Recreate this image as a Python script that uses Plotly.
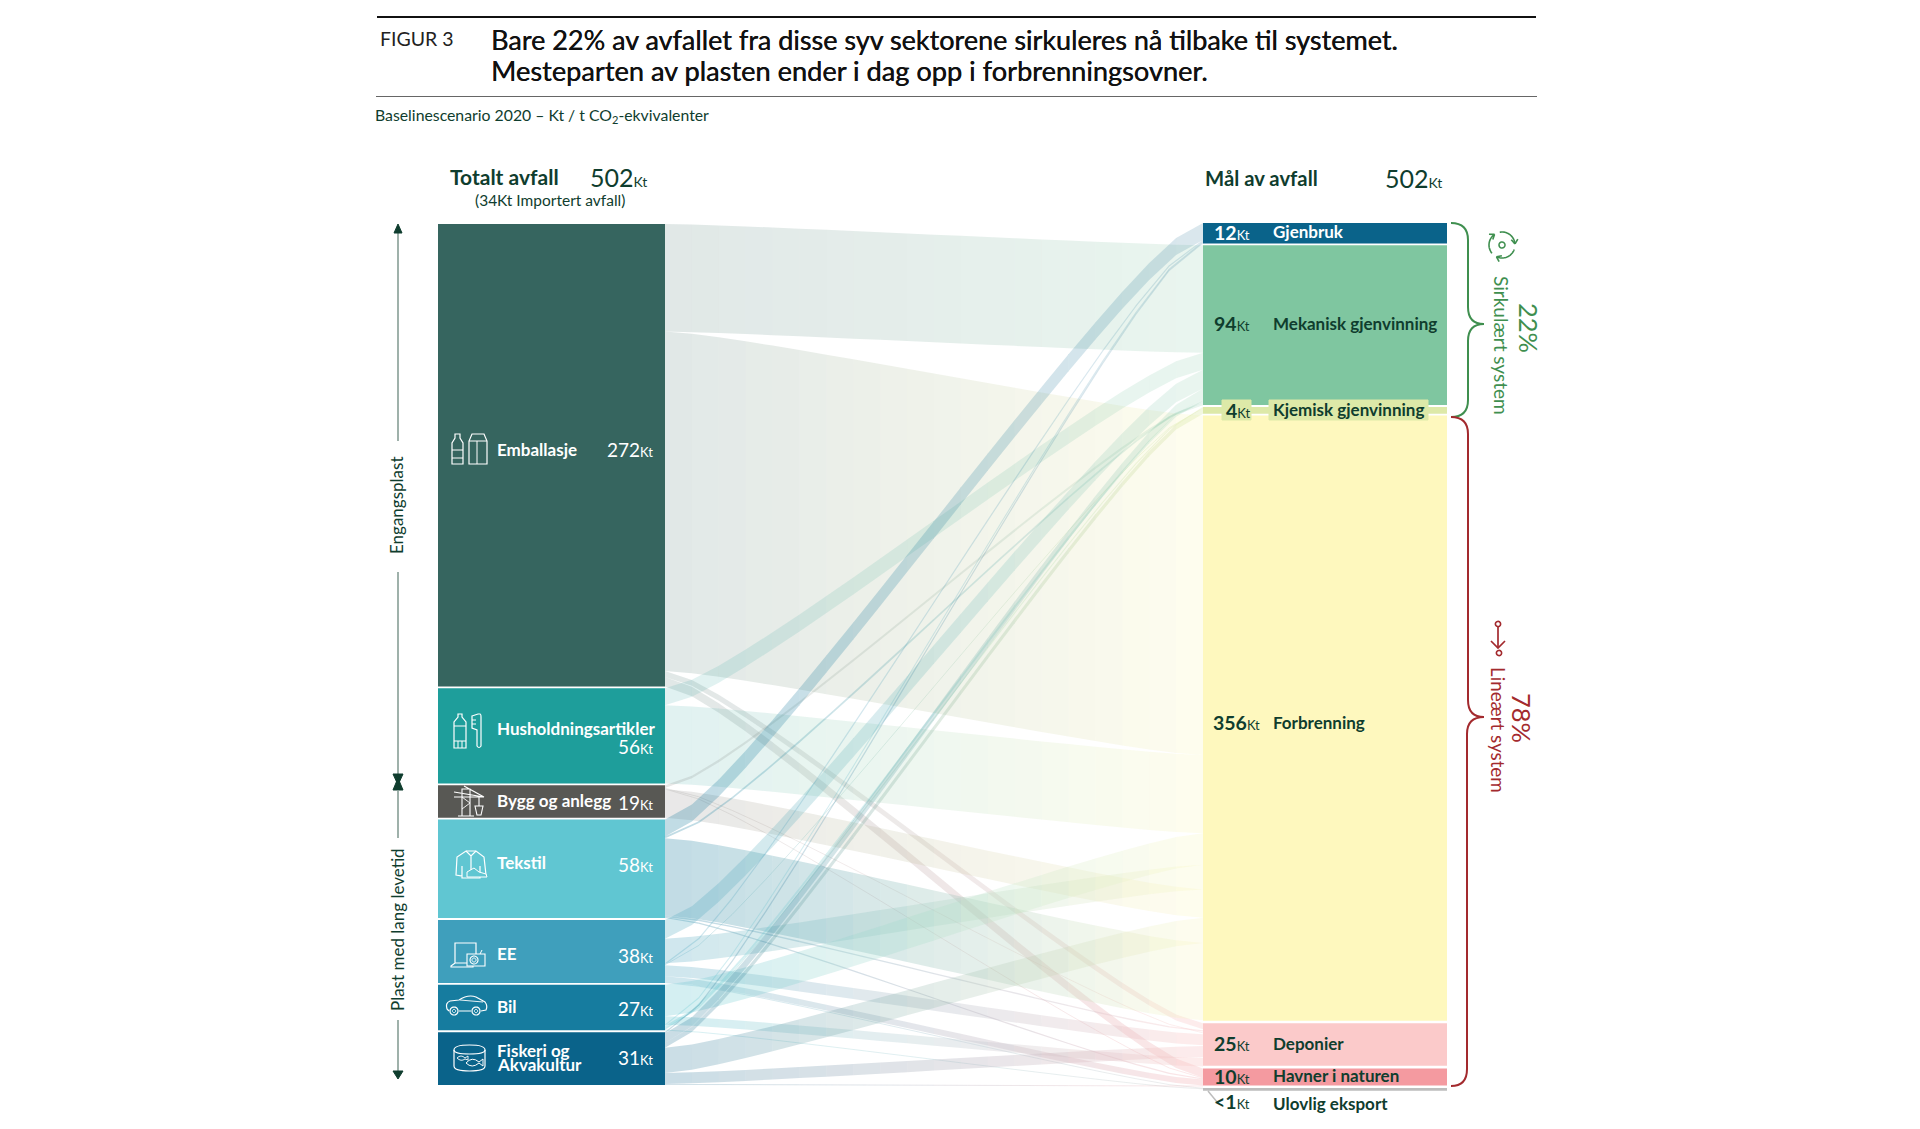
import numpy as np
import plotly.graph_objects as go

# ---------- data (Kt) ----------
source_names = ["Emballasje", "Husholdningsartikler", "Bygg og anlegg", "Tekstil", "EE", "Bil", "Fiskeri og Akvakultur"]
source_values = [272, 56, 19, 58, 38, 27, 31]
target_names = ["Gjenbruk", "Mekanisk gjenvinning", "Kjemisk gjenvinning", "Forbrenning", "Deponier", "Havner i naturen", "Ulovlig eksport"]
target_values = [12, 94, 4, 356, 25, 10, 1]
target_labels = ["12", "94", "4", "356", "25", "10", "&lt;1"]
total_waste = 502

# each source's outgoing flows, in the order they leave the source (top to bottom)
flows_emballasje = [("Mekanisk gjenvinning", 63.3), ("Forbrenning", 199.7), ("Deponier", 3.5), ("Havner i naturen", 5.5)]
flows_hushold = [("Mekanisk gjenvinning", 10.0), ("Forbrenning", 46.0)]
flows_bygg = [("Mekanisk gjenvinning", 1.5), ("Deponier", 0.4), ("Havner i naturen", 0.4), ("Forbrenning", 16.7)]
flows_tekstil = [("Gjenbruk", 10.0), ("Mekanisk gjenvinning", 1.0), ("Forbrenning", 45.5), ("Deponier", 0.8), ("Havner i naturen", 0.7)]
flows_ee = [("Mekanisk gjenvinning", 11.0), ("Forbrenning", 14.5), ("Gjenbruk", 0.7), ("Kjemisk gjenvinning", 0.4), ("Deponier", 6.5), ("Havner i naturen", 3.5), ("Ulovlig eksport", 0.4)]
flows_bil = [("Forbrenning", 18.5), ("Deponier", 5.0), ("Gjenbruk", 0.6), ("Mekanisk gjenvinning", 1.8), ("Kjemisk gjenvinning", 0.6), ("Ulovlig eksport", 0.3)]
flows_fiskeri = [("Gjenbruk", 0.7), ("Mekanisk gjenvinning", 5.5), ("Kjemisk gjenvinning", 3.0), ("Forbrenning", 14.8), ("Deponier", 6.5), ("Havner i naturen", 0.5)]
all_flows = [flows_emballasje, flows_hushold, flows_bygg, flows_tekstil, flows_ee, flows_bil, flows_fiskeri]

# order in which flows arrive on each target (top to bottom)
arrival_order = {
    "Gjenbruk": ["Tekstil", "EE", "Bil", "Fiskeri og Akvakultur"],
    "Mekanisk gjenvinning": ["Emballasje", "Husholdningsartikler", "EE", "Fiskeri og Akvakultur", "Bil", "Tekstil", "Bygg og anlegg"],
    "Kjemisk gjenvinning": ["Bil", "EE", "Fiskeri og Akvakultur"],
    "Forbrenning": ["Emballasje", "Husholdningsartikler", "Bil", "EE", "Bygg og anlegg", "Fiskeri og Akvakultur", "Tekstil"],
    "Deponier": ["Emballasje", "Tekstil", "Bygg og anlegg", "EE", "Fiskeri og Akvakultur", "Bil"],
    "Havner i naturen": ["Emballasje", "Bygg og anlegg", "Tekstil", "EE", "Fiskeri og Akvakultur"],
    "Ulovlig eksport": ["EE", "Bil"],
}

# ---------- styles / layout ----------
W, H = 1920, 1129
KT_PX = 1.70                  # pixels per Kt
TOP_PX = 224
SRC_X = (438, 665)
TGT_X = (1203, 1447)
SRC_GAP = 1.1
TGT_START = -0.6
TGT_GAPS = [1.1, 1.1, 1.1, 1.5, 1.5, 1.5, 0]
ULOV_DRAWN = 1.7
DEP_LINK_GAP = 0.55
CURVE = 0.12
INK = "#0f3d2e"

src_colors = ["#36655f", "#1e9e9b", "#585854", "#60c6d2", "#3f9fbc", "#167c9f", "#0a638a"]
src_link = [((54, 101, 95), .15), ((30, 158, 155), .14), ((88, 88, 84), .14), ((22, 124, 159), .27),
            ((63, 159, 188), .25), ((96, 198, 210), .28), ((10, 99, 138), .22)]
tgt_colors = ["#0a638a", "#7fc6a0", "#dde9a8", "#fef8be", "#fbcaca", "#f49aa0", "#bdbdbd"]
tgt_link = [((10, 99, 138), .15), ((127, 198, 160), .17), ((221, 233, 168), .35), ((253, 248, 190), .26),
            ((251, 202, 202), .36), ((244, 154, 160), .25), ((189, 189, 189), .3)]

# ---------- layout maths ----------
src_heights = [sum(v for _, v in fl) for fl in all_flows]
src_top, y = [], 0.0
for v in src_heights:
    src_top.append(y)
    y += v + SRC_GAP
tgt_heights = [ULOV_DRAWN if n == "Ulovlig eksport" else v for n, v in zip(target_names, target_values)]
tgt_top, y = [], TGT_START
for v, g in zip(tgt_heights, TGT_GAPS):
    tgt_top.append(y)
    y += v + g

arrive_y = {}
for tn, tt in zip(target_names, tgt_top):
    cur = tt
    for s in arrival_order[tn]:
        val = dict(all_flows[source_names.index(s)])[tn]
        arrive_y[(s, tn)] = cur
        cur += val + (DEP_LINK_GAP if tn == "Deponier" else 0)

ts = np.linspace(0, 1, 300)
bx = 3*(1-ts)**2*ts*CURVE + 3*(1-ts)*ts**2*(1-CURVE) + ts**3
by = 3*(1-ts)*ts**2 + ts**3
x0, x1 = SRC_X[1], TGT_X[0]


def rgba(c, a):
    return f"rgba({c[0]:.0f},{c[1]:.0f},{c[2]:.0f},{a:.3f})"


fig = go.Figure()
for i, flows in enumerate(all_flows):
    cur = src_top[i]
    for tn, val in flows:
        j = target_names.index(tn)
        ya, yb = cur, arrive_y[(source_names[i], tn)]
        cur += val
        thin = val < 1.2
        n = 16 if thin else 20
        edges = np.linspace(0, 1, n + 1)
        top = ya + (yb - ya)*np.interp(edges, bx, by)
        xs = x0 + (x1 - x0)*edges
        (c0, a0), (c1, a1) = src_link[i], tgt_link[j]
        for k in range(n):
            f = (k + .5)/n
            al = a0 + (a1-a0)*f
            # premultiplied interpolation, so the band fades evenly on white
            col = [(c0[m]*a0*(1-f) + c1[m]*a1*f)/al for m in range(3)]
            if thin:
                fig.add_trace(go.Scatter(x=xs[k:k+2], y=top[k:k+2] + val/2, mode="lines",
                                         line=dict(color=rgba(col, al), width=max(.9, val*KT_PX)),
                                         hoverinfo="skip", showlegend=False))
            else:
                px = [xs[k], xs[k+1], xs[k+1], xs[k]]
                py = [top[k], top[k+1], top[k+1]+val, top[k]+val]
                fig.add_trace(go.Scatter(x=px, y=py, mode="lines", fill="toself", fillcolor=rgba(col, al),
                                         line=dict(width=0), hoverinfo="skip", showlegend=False))

fig.add_trace(go.Bar(x=[(SRC_X[0]+SRC_X[1])/2]*7, y=src_heights, base=src_top, width=SRC_X[1]-SRC_X[0],
                     marker=dict(color=src_colors, line=dict(width=0)), hoverinfo="skip", showlegend=False))
fig.add_trace(go.Bar(x=[(TGT_X[0]+TGT_X[1])/2]*7, y=tgt_heights, base=tgt_top,
                     width=TGT_X[1]-TGT_X[0], marker=dict(color=tgt_colors, line=dict(width=0)),
                     hoverinfo="skip", showlegend=False))
fig.add_trace(go.Scatter(x=[None], y=[None], yaxis="y2", showlegend=False, hoverinfo="skip"))

annotations, shapes = [], []


def text(x, y, s, size, color=INK, anchor="left", weight=400, angle=0, font="Lato", shadow=None):
    f = dict(family=font, size=size, color=color, weight=weight)
    if shadow:
        f["shadow"] = shadow
    annotations.append(dict(x=x, y=y, xref="x", yref="y2", text=s, showarrow=False, xanchor=anchor, yanchor="middle",
                            textangle=angle, align=anchor, font=f))


def path(d, color="#ffffff", width=1.2, fill=None):
    shapes.append(dict(type="path", path=d, xref="x", yref="y2", layer="above",
                       line=dict(color=color, width=width), fillcolor=fill if fill else "rgba(0,0,0,0)"))


def line(xa, ya, xb, yb, color, width=1.0):
    path(f"M{xa},{ya} L{xb},{yb}", color, width)


def rect(xa, ya, xb, yb, color="#ffffff", width=1.2, fill=None):
    path(f"M{xa},{ya} L{xb},{ya} L{xb},{yb} L{xa},{yb} Z", color, width, fill)


def circle(cx, cy, r, color="#ffffff", width=1.2, fill=None, a0=0, a1=360):
    an = np.radians(np.linspace(a0, a1, 26))
    d = "M" + " L".join(f"{cx + r*np.cos(t):.2f},{cy + r*np.sin(t):.2f}" for t in an)
    path(d, color, width, fill)


def kt(num, bold=False, small=13):
    n = f"<b>{num}</b>" if bold else f"{num}"
    return f'{n}<span style="font-size:{small}px">Kt</span>'


# header
line(377, 17, 1536, 17, "#111111", 2)
line(376, 96.5, 1537, 96.5, "#666666", 1)
text(378, 38, "FIGUR 3", 19.5, "#222222")
TH = "0.35px 0 0 #111111"
text(489, 39, "Bare 22% av avfallet fra disse syv sektorene sirkuleres nå tilbake til systemet.", 27, "#111111", shadow=TH)
text(489, 70, "Mesteparten av plasten ender i dag opp i forbrenningsovner.", 27.2, "#111111", shadow=TH)
text(373, 115, "Baselinescenario 2020 – Kt / t CO<sub>2</sub>-ekvivalenter", 15.8)

text(448, 176, "Totalt avfall", 21, weight=700)
text(588, 177, kt(total_waste, small=14), 25)
text(550, 200, "(34Kt Importert avfall)", 15.5, anchor="center")
text(1203, 178, "Mål av avfall", 20.3, weight=700)
text(1383, 178, kt(total_waste, small=14), 25)

# source labels
WHITE = "#ffffff"
for nm, yy in [("Emballasje", 449), ("Husholdningsartikler", 728), ("Bygg og anlegg", 800), ("Tekstil", 862),
               ("EE", 953), ("Bil", 1006), ("Fiskeri og", 1050), ("Akvakultur", 1064)]:
    text(495, yy, nm, 17, WHITE, weight=700)
for v, yy in zip(source_values, [449, 746, 802, 864, 955, 1008, 1057]):
    text(655, yy, kt(v), 19, WHITE, anchor="right")

# target labels
rects_bg = [(1222, 400, 1251, 420), (1269, 400, 1428, 420)]
for a, b, c, d in rects_bg:
    rect(a, b, c, d, "#dde9a8", 1, "#dde9a8")
tgt_y = [231, 323, 409, 722, 1043, 1075, 1103]
num_y = [232, 323, 410, 722, 1043, 1076, 1101]
tgt_col = [WHITE, INK, INK, INK, INK, INK, INK]
for nm, lb, yy, ny, c in zip(target_names, target_labels, tgt_y, num_y, tgt_col):
    text(1270.5, yy, nm, 17, c, weight=700)
    text(1252 if lb != "356" else 1262, ny, kt(lb, bold=True), 19.5, c, anchor="right")
line(1208, 1091, 1217, 1102, "#bdbdbd", 1.5)

# brackets
GREEN, RED = "#3f8f4f", "#a32a2e"
path("M1451,223 Q1468,223 1468,240 L1468,307 Q1468,324 1484,324 Q1468,324 1468,341 L1468,400 Q1468,417 1451,417", GREEN, 2)
path("M1451,417 Q1468,417 1468,434 L1468,700 Q1468,717 1484,717 Q1467,717 1467,734 L1467,1069 Q1467,1086 1451,1086", RED, 2)
text(1502, 345, "Sirkulært system", 19, GREEN, "center", angle=90)
text(1529, 328, "22%", 25.5, GREEN, "center", angle=90)
text(1499, 730, "Lineært system", 18.8, RED, "center", angle=90)
text(1522, 718, "78%", 25.5, RED, "center", angle=90)

# circular and linear symbols
circle(1502, 245, 3, GREEN, 1.5)
for a in (20, 140, 260):
    circle(1502, 245, 13, GREEN, 1.6, a0=a, a1=a+95)
    t = np.radians(a+95)
    cx, cy = 1502 + 13*np.cos(t), 245 + 13*np.sin(t)
    t2 = t + np.pi/2
    for off in (2.5, -2.5):
        nx, ny = np.cos(t2 + off), np.sin(t2 + off)
        line(round(cx, 1), round(cy, 1), round(cx + 5.5*nx, 1), round(cy + 5.5*ny, 1), GREEN, 1.6)
circle(1498, 624, 2.6, RED, 1.6)
line(1498, 627, 1498, 648, RED, 1.7)
path("M1491,641 L1498,648 L1505,641", RED, 1.7)
circle(1499, 653, 2.6, RED, 1.6)

# left scale
AX = "#5f7d72"
for a, b in [(232, 441), (572, 776), (791, 838), (1020, 1072)]:
    line(398, a, 398, b, AX, 1.2)
path("M398,224 L394,233 L402,233 Z", INK, 1, INK)
path("M398,785 L393,774 L403,774 Z", INK, 1, INK)
path("M398,778 L393,790 L403,790 Z", INK, 1, INK)
path("M398,1079 L393,1071 L403,1071 Z", INK, 1, INK)
text(396, 505, "Engangsplast", 17, INK, "center", angle=-90)
text(397, 930, "Plast med lang levetid", 17, INK, "center", angle=-90)

# icons
# bottle + carton
path("M452,464 L452,443 L455,438 L455,434 L460,434 L460,438 L463,443 L463,464 Z")
line(452, 450, 463, 450, WHITE); line(452, 458, 463, 458, WHITE)
path("M469,464 L469,441 L472,434 L484,434 L487,441 L487,464 Z")
line(469, 441, 487, 441, WHITE); line(477, 441, 477, 464, WHITE)
# bottle + toothbrush
path("M454,748 L454,722 L458,717 L458,714 L462,714 L462,717 L466,722 L466,748 Z")
line(454, 726, 466, 726, WHITE); line(454, 741, 466, 741, WHITE)
line(458, 741, 458, 748, WHITE); line(462, 741, 462, 748, WHITE)
path("M472,716 L478,714 L480,714 Q481,714 481,717 L481,746 Q479,749 477,746 L477,730 L472,728 Z")
line(472, 720, 476, 720, WHITE); line(472, 724, 476, 724, WHITE)
# crane
path("M462,816 L462,789 L470,789 L470,816 M458,816 L474,816 M454,792 L484,797 M454,797 L484,797 M464,786 L484,797", WHITE, 1.1)
path("M479,797 L479,806 M475,806 L483,806 L481,815 L477,815 Z", WHITE, 1.1)
line(462, 797, 470, 803, WHITE, .9); line(470, 803, 462, 809, WHITE, .9)
# jacket + shoe
path("M466,851 L476,851 L484,857 L486,875 L480,876 L480,866 L480,878 L462,878 L462,866 L462,876 L456,875 L457,857 Z")
path("M466,851 L471,856 L476,851 M471,856 L471,870")
path("M467,872 L474,868 L479,872 L486,874 L487,877 L467,877 Z", WHITE, 1, "#60c6d2")
# laptop + camera
path("M455,963 L455,943 L476,943 L476,960 M451,966 L455,963 L473,963 L473,967 L451,967 Z")
rect(467, 954, 485, 966, WHITE, 1.1, "#3f9fbc")
circle(474, 960, 4, WHITE, 1.1); circle(474, 960, 2, WHITE, 1)
line(480, 954, 482, 950, WHITE)
# car
path("M447,1009 Q445,1003 450,1001 L459,1000 Q468,994 476,997 L485,1002 Q488,1006 486,1010 L481,1011 M471,1011 L459,1011 M449,1011 L447,1009")
path("M460,1000 L483,1002", WHITE, .9)
circle(454, 1011, 4); circle(476, 1011, 4); circle(454, 1011, 1.6, WHITE, 1); circle(476, 1011, 1.6, WHITE, 1)
# can + fish
path("M454,1050 Q454,1045 469.5,1045 Q485,1045 485,1050 L485,1066 Q485,1071 469.5,1071 Q454,1071 454,1066 Z")
path("M454,1050 Q454,1054 469.5,1054 Q485,1054 485,1050")
path("M466,1063 Q472,1056 479,1062 L483,1059 L483,1066 L479,1063 Q472,1069 466,1063 Z", WHITE, 1)
path("M457,1058 Q461,1054 465,1058 L468,1056 L468,1060 L465,1059 Q461,1062 457,1058 Z", WHITE, .9)

fig.update_layout(
    width=W, height=H, margin=dict(l=0, r=0, t=0, b=0), paper_bgcolor="white", plot_bgcolor="white",
    barmode="overlay", showlegend=False, hovermode=False, annotations=annotations, shapes=shapes,
    xaxis=dict(range=[0, W], visible=False, fixedrange=True, domain=[0, 1]),
    yaxis=dict(range=[(H-TOP_PX)/KT_PX, -TOP_PX/KT_PX], visible=False, fixedrange=True, domain=[0, 1]),
    yaxis2=dict(range=[H, 0], visible=False, fixedrange=True, overlaying="y", side="right"),
)
fig.write_html("out.html", config=dict(displayModeBar=False),
               post_script="document.body.style.margin='0';document.body.style.overflow='hidden';")
